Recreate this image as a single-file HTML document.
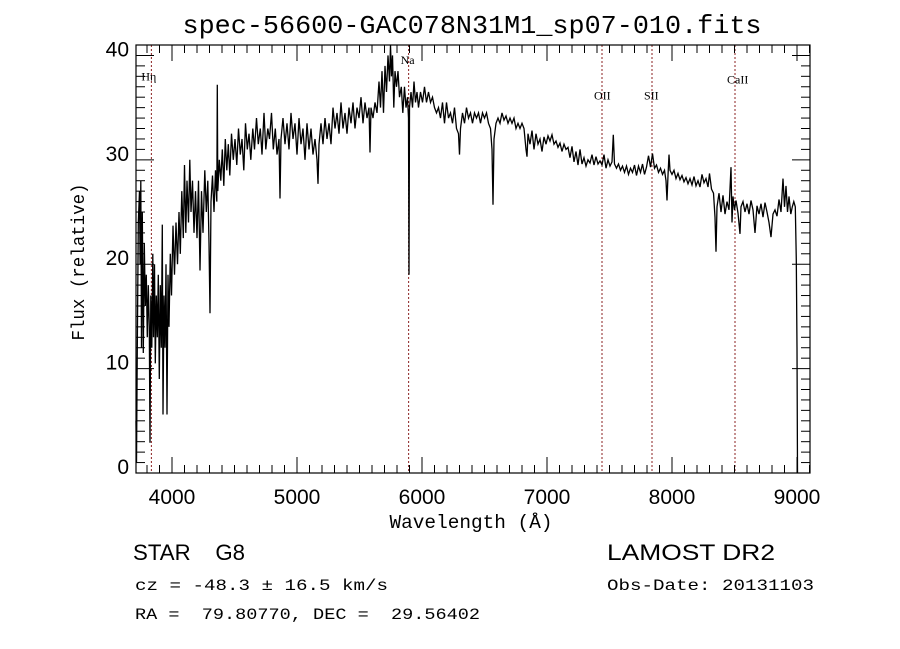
<!DOCTYPE html>
<html><head><meta charset="utf-8"><style>
html,body{margin:0;padding:0;background:#fff;}
svg{display:block;}
text{white-space:pre;}
</style></head><body>
<svg id="chart" width="900" height="649" viewBox="0 0 900 649" xmlns="http://www.w3.org/2000/svg">
<rect x="0" y="0" width="900" height="649" fill="#fff"/>
<text x="472" y="33" text-anchor="middle" font-family="Liberation Mono, monospace" font-size="26" textLength="579" lengthAdjust="spacingAndGlyphs">spec-56600-GAC078N31M1_sp07-010.fits</text>
<g id="plot"></g>
<g id="axes"></g>
<text x="471" y="528" text-anchor="middle" font-family="Liberation Mono, monospace" font-size="19" textLength="163" lengthAdjust="spacingAndGlyphs">Wavelength (Å)</text>
<text transform="translate(84,262) rotate(-90)" text-anchor="middle" font-family="Liberation Mono, monospace" font-size="18" textLength="157" lengthAdjust="spacingAndGlyphs">Flux (relative)</text>
<text x="133" y="560" font-family="Liberation Sans, sans-serif" font-size="22" textLength="112" lengthAdjust="spacingAndGlyphs" xml:space="preserve">STAR    G8</text>
<text x="607" y="560" font-family="Liberation Sans, sans-serif" font-size="22" textLength="168" lengthAdjust="spacingAndGlyphs">LAMOST DR2</text>
<text x="135" y="590" font-family="Liberation Mono, monospace" font-size="16" textLength="253" lengthAdjust="spacingAndGlyphs">cz = -48.3 ± 16.5 km/s</text>
<text x="607" y="590" font-family="Liberation Mono, monospace" font-size="16" textLength="207" lengthAdjust="spacingAndGlyphs">Obs-Date: 20131103</text>
<text x="135" y="619" font-family="Liberation Mono, monospace" font-size="16" textLength="345" lengthAdjust="spacingAndGlyphs" xml:space="preserve">RA =  79.80770, DEC =  29.56402</text>
</svg>
<script>
const wavelengths = [3712,3716,3722,3730,3740,3745,3750,3756,3762,3770,3778,3786,3794,3802,3810,3818,3824,3830,3838,3846,3852,3860,3866,3874,3882,3890,3898,3906,3914,3922,3928,3936,3944,3952,3960,3968,3976,3986,3996,4008,4020,4032,4044,4056,4066,4078,4090,4100,4110,4120,4132,4142,4152,4164,4176,4188,4200,4212,4224,4236,4248,4262,4274,4286,4296,4304,4312,4324,4336,4348,4358,4362,4366,4378,4390,4402,4414,4426,4438,4450,4462,4476,4490,4504,4518,4532,4546,4560,4574,4588,4602,4616,4630,4646,4660,4676,4690,4706,4720,4736,4750,4766,4780,4796,4810,4826,4840,4856,4864,4872,4888,4904,4920,4936,4952,4968,4984,5000,5016,5032,5048,5064,5080,5096,5112,5128,5144,5160,5168,5176,5192,5208,5224,5240,5256,5272,5288,5304,5320,5336,5352,5368,5384,5400,5416,5432,5448,5464,5480,5496,5512,5528,5544,5560,5576,5584,5592,5608,5624,5640,5656,5668,5680,5692,5704,5716,5728,5740,5748,5756,5764,5774,5784,5796,5808,5820,5834,5846,5860,5872,5884,5892,5896,5900,5912,5924,5936,5948,5960,5972,5988,6004,6020,6036,6052,6068,6084,6100,6116,6132,6148,6164,6180,6196,6212,6228,6244,6260,6276,6292,6300,6308,6324,6340,6356,6372,6388,6404,6420,6436,6452,6468,6484,6500,6516,6532,6548,6560,6568,6576,6592,6608,6624,6640,6656,6672,6688,6704,6720,6736,6752,6768,6784,6800,6816,6832,6840,6848,6864,6880,6896,6912,6928,6944,6960,6976,6992,7008,7024,7040,7056,7072,7088,7104,7120,7136,7152,7168,7184,7200,7216,7232,7248,7264,7280,7296,7312,7328,7344,7360,7376,7392,7408,7424,7440,7456,7472,7488,7504,7520,7530,7540,7556,7572,7588,7604,7620,7636,7652,7668,7684,7700,7716,7732,7748,7764,7780,7796,7812,7828,7844,7860,7876,7892,7908,7924,7940,7952,7960,7968,7976,7984,8000,8016,8032,8048,8064,8080,8096,8112,8128,8144,8160,8176,8192,8208,8224,8240,8256,8272,8288,8300,8316,8332,8344,8352,8360,8376,8392,8408,8424,8440,8456,8472,8480,8488,8500,8512,8528,8544,8552,8568,8584,8600,8616,8632,8648,8664,8680,8696,8712,8728,8744,8760,8776,8792,8808,8824,8840,8856,8872,8888,8900,8912,8924,8936,8950,8962,8974,8986,8994,9000,9004];
const fluxValues = [5,1,12,24,27,20,28,12,25,11.5,22,16,19,13,18,14,2.9,17,12,21,13,20,10.5,17,13,19,9,18,12,23.8,5.6,17,12,20,5.6,19,14,21,17,23.7,19,24,20,25,21,27,22.5,29.5,23,28,24,30,25,28,23,27,22.5,28,19.4,27,23,29,25,28,22,15.3,26,28.5,25,29,26,37.2,27,30,28,31,27.5,32,29,31.5,28.5,32.5,30,32,29.5,33,30.5,32,29,33.5,31,32.5,30,33,31,34,31.5,33,30.5,34.5,31,33,32,34.5,31,33,30.5,32,26.3,32,34,31.5,33.5,31,34.5,32,33.5,30.5,34,31.5,33,30,33.5,31,33,30.5,32,30,27.7,31.5,33.5,31.5,34,32,33.5,31.5,35,33,34.5,32.5,35.5,33,34.5,32.5,35,33.5,35.5,33,35,34,36,33.5,35.5,34,35,30.7,35,34,35.5,34.5,37.5,35,38.5,34.5,39,36.5,40,37.5,41,38,40,35,38.5,37,38.5,36,37,34.5,37,35,36,34,19,35,36.5,35,37.5,35.5,36.5,35,36.5,35.5,37,35.5,36.5,35.5,36,35,34.5,35,34,35.5,33.5,35.5,34,34.5,33.5,35,33,32.5,30.5,33,34.5,33.5,35,34,34.5,33.5,34.5,34,34.5,33.5,34.5,34,34.5,33.5,33,31,25.7,32,33.5,34,33.5,34.5,33.8,34.2,33.5,34,33.5,34,33,33.5,33,33.5,33,31,30.3,32.5,31.5,32.8,31,32.5,31.5,32,30.8,32.2,31.5,32.3,31.8,32.4,31.5,31.8,31.2,31.6,30.8,31.5,31,31.2,30.2,31.3,29.8,30.8,29.5,31,29.6,30.2,29.4,30,29.7,30.5,29.5,30.3,29.6,29.9,29.5,30.5,29.2,30,29.4,29.8,32.4,29.6,29.2,29.6,29,29.4,28.8,29.4,28.6,29.2,28.8,29.5,28.5,29.4,28.8,29.6,28.6,29.3,30.4,29.3,30.6,29.2,29.5,28.8,29.2,28.6,29,28,26.1,28.5,30.5,29,28.6,29,28.2,28.7,28.1,28.5,27.9,28.3,27.7,28.2,27.6,28.4,27.5,28,27.4,28.6,27.8,28.2,27.4,28.7,27.2,26.8,24.5,21.2,25.5,26.8,25,26.6,24.8,26,25.2,29.3,24,26.5,25.2,26.1,24.9,22.9,25.5,26,25,25.8,24.8,26.1,25.2,23,25.6,24.8,25.8,24.5,25.9,25,24,22.6,24.8,25.2,24.6,26.2,25,28.2,25.5,27.5,25,26.5,24.8,25.5,26,25.5,20.4,12,0];
const xTicks = [4000,5000,6000,7000,8000,9000];
const yTicks = [0,10,20,30,40];
const lineNames = ["H\u03B7","Na","OII","SII","CaII"];
const lineWavelengths = [3835,5893,7440,7840,8504];
const labelFlux = [37.6,39.2,35.8,35.8,37.3];

const NS = "http://www.w3.org/2000/svg";
const L = 136, R = 810, T = 45, B = 473;
const XMIN = 3712, XMAX = 9104, YMIN = 0, YMAX = 41;
function xs(w){ return L + (w - XMIN) / (XMAX - XMIN) * (R - L); }
function ys(f){ return B - (f - YMIN) / (YMAX - YMIN) * (B - T); }
function mk(tag, attrs, parent){ const e = document.createElementNS(NS, tag); for (const k in attrs) e.setAttribute(k, attrs[k]); parent.appendChild(e); return e; }

const plot = document.getElementById('plot');
const axes = document.getElementById('axes');

lineWavelengths.forEach((w, i) => {
  const ln = mk('line', {x1: xs(w), x2: xs(w), y1: T, y2: B, stroke: '#8b2020', 'stroke-width': 1, 'stroke-dasharray': '2,2'}, plot);
  
  
  const t = mk('text', {x: xs(w) + (i === 0 ? -10 : -8), y: ys(labelFlux[i]), 'font-family': 'Liberation Serif, serif', 'font-size': 12}, plot);
  t.textContent = lineNames[i];
  
  
});

let d = '';
for (let i = 0; i < wavelengths.length; i++) {
  d += (i ? 'L' : 'M') + xs(wavelengths[i]).toFixed(1) + ',' + ys(fluxValues[i]).toFixed(1);
}
const sp = mk('path', {d: d, fill: 'none', stroke: '#000', 'stroke-width': 1.3, 'stroke-linejoin': 'miter'}, plot);



const fr = mk('rect', {x: L, y: T, width: R - L, height: B - T, fill: 'none', stroke: '#000', 'stroke-width': 1.2}, axes);



for (let w = 3800; w <= 9100; w += 100) {
  const major = (w % 1000 === 0);
  const len = major ? 16 : 8;
  mk('line', {x1: xs(w), x2: xs(w), y1: B, y2: B - len, stroke: '#000', 'stroke-width': 1}, axes);
  mk('line', {x1: xs(w), x2: xs(w), y1: T, y2: T + len, stroke: '#000', 'stroke-width': 1}, axes);
}
xTicks.forEach(w => {
  const t = mk('text', {x: xs(w), y: B + 31, 'text-anchor': 'middle', 'font-family': 'Liberation Sans, sans-serif', 'font-size': 21}, axes);
  t.textContent = w;
  
  
});
for (let f = 0; f <= 41; f += 1) {
  const major = (f % 10 === 0);
  const len = major ? 18 : 9;
  mk('line', {x1: L, x2: L + len, y1: ys(f), y2: ys(f), stroke: '#000', 'stroke-width': 1}, axes);
  mk('line', {x1: R, x2: R - len, y1: ys(f), y2: ys(f), stroke: '#000', 'stroke-width': 1}, axes);
}
yTicks.forEach(f => {
  const t = mk('text', {x: L - 7, y: ys(f) + 1, 'text-anchor': 'end', 'font-family': 'Liberation Sans, sans-serif', 'font-size': 21}, axes);
  t.textContent = f;
  
  
});
</script>
</body></html>
